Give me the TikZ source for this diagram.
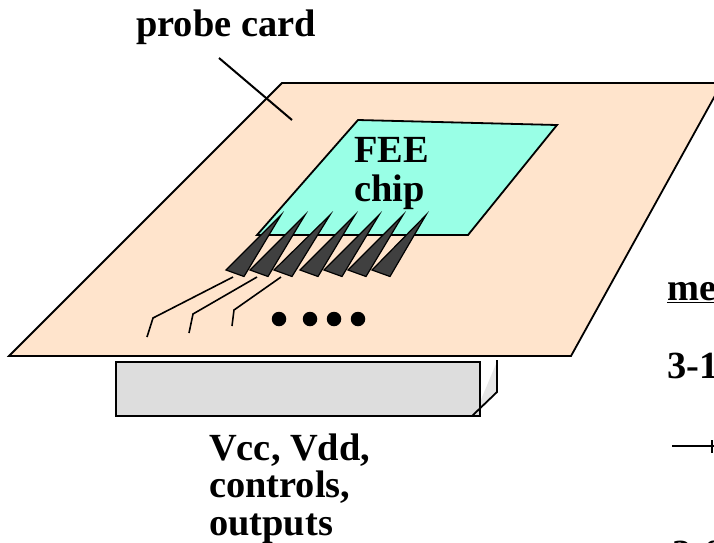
\documentclass[tikz,border=0pt]{standalone}
\usepackage{fontspec}
\setmainfont{Liberation Serif}
\definecolor{peachc}{RGB}{255,228,204}
\definecolor{mintc}{RGB}{153,255,230}
\definecolor{spikec}{RGB}{64,64,64}
\definecolor{standc}{RGB}{221,221,221}
\definecolor{foldc}{RGB}{230,230,230}
\tikzset{
  lbl/.style={font=\bfseries\fontsize{38.4}{38}\selectfont,inner sep=0pt,anchor=base west},
  edge/.style={line width=1.8pt,black},
  wire/.style={line width=1.6pt,black},
  spike/.style={draw=black,fill=spikec,line width=1.2pt,line join=miter},
  blob/.style={circle,fill=black,inner sep=0pt,minimum size=14.5pt}
}
\begin{document}
\begin{tikzpicture}[x=1pt,y=-1pt]
\useasboundingbox (0,0) rectangle (714,542);
\begin{scope}
\clip (0,0) rectangle (714,542);
\fill[white] (0,0) rectangle (714,542);
% stand
\fill[foldc] (480,402) -- (496,364) -- (497,392) -- (472,416) -- (480,416) -- cycle;
\draw[edge,fill=standc] (116,362) rectangle (480,416);
\draw[edge] (497,360) -- (497,392) -- (472,416);
% board
\draw[edge,fill=peachc] (9,356) -- (282,83) -- (722,83) -- (571,356) -- cycle;
% chip
\draw[edge,fill=mintc] (358,120) -- (557,125) -- (468,235) -- (257,235) -- cycle;
% spikes
\foreach \tx/\lx in {281/226,305/250,330/274,355/300,379/324,403/348,426/372}{
  \draw[spike] (\tx,215) -- (\lx,270) -- ({\lx+18},276.5) -- cycle;
}
% wires
\coordinate (w1a) at (233,277); \coordinate (w1b) at (153,318); \coordinate (w1c) at (147,337);
\coordinate (w2a) at (257,277); \coordinate (w2b) at (193,314); \coordinate (w2c) at (189,333);
\coordinate (w3a) at (281,277); \coordinate (w3b) at (234,310); \coordinate (w3c) at (232,326);
\draw[wire] (w1a) -- (w1b) -- (w1c);
\draw[wire] (w2a) -- (w2b) -- (w2c);
\draw[wire] (w3a) -- (w3b) -- (w3c);
\node[blob] (d1) at (279,319) {};
\node[blob] (d2) at (310,319) {};
\node[blob] (d3) at (334,319) {};
\node[blob] (d4) at (358,319) {};
% labels
\node[lbl] (probe) at (136,36) {probe card};
\coordinate (leadA) at (219,58); \coordinate (leadB) at (292,120);
\draw[line width=2pt] (leadA) -- (leadB);
\node[lbl] (fee) at (354,162) {FEE};
\node[lbl] (chip) at (354,201) {chip};
\node[lbl] (v1) at (209,460) {Vcc, Vdd,};
\node[lbl] (v2) at (209,497) {controls,};
\node[lbl] (v3) at (209,535) {outputs};
\node[lbl] (me) at (667,300) {\underline{me}};
\node[lbl] (r1) at (667,378) {3-1};
\node[lbl] (r2) at (672,566) {3-0};
\coordinate (arA) at (672,446); \coordinate (arB) at (714,446);
\draw[line width=1.5pt] (arA) -- (arB);
\draw[line width=2.5pt] (712,440) -- (712,453);
\end{scope}
\end{tikzpicture}
\end{document}
